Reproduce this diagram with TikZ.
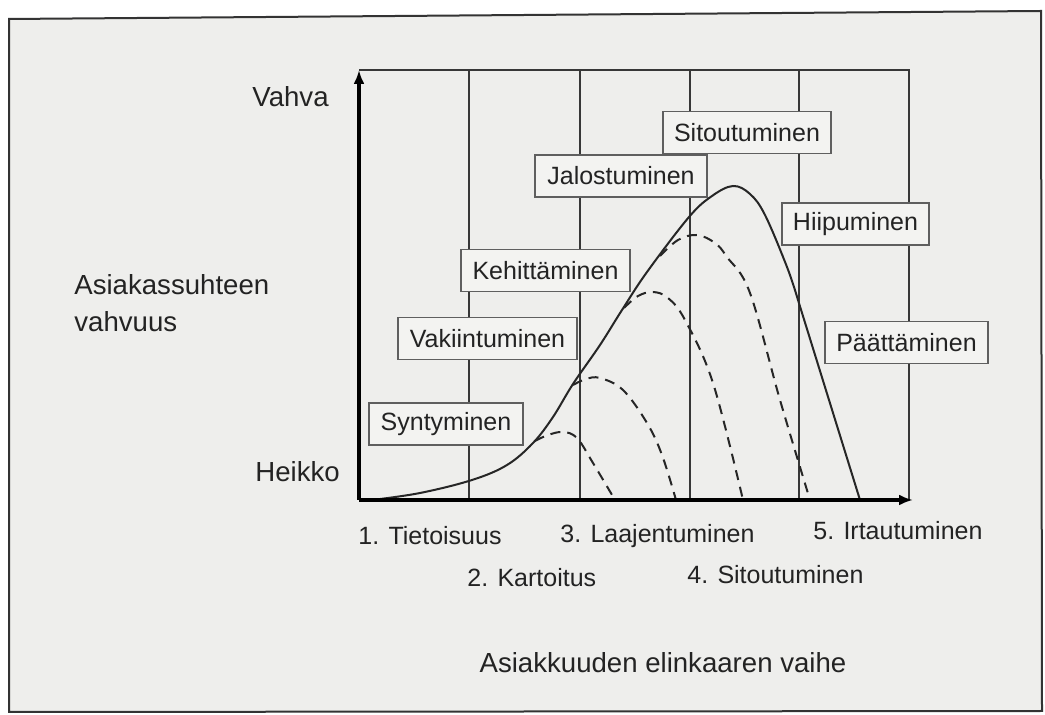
\documentclass[tikz,border=0pt]{standalone}
\usepackage{fontspec}
\setmainfont{Liberation Sans}
\usetikzlibrary{arrows.meta}
\begin{document}
\begin{tikzpicture}[x=0.5pt,y=-0.5pt,
  paper/.style={fill=papergray},
  stagebox/.style={draw=boxgray, line width=0.8pt, fill=boxfill, text=inkgray,
     font=\fontsize{12.5}{14}\selectfont, minimum height=21pt, inner sep=0pt, anchor=center},
  axislabel/.style={text=inkgray, font=\fontsize{13.8}{16}\selectfont, inner sep=0pt},
  phaselabel/.style={text=inkgray, font=\fontsize{12.5}{14}\selectfont, inner sep=0pt, anchor=base west},
  divider/.style={draw=linegray, line width=0.8pt},
  lifecurve/.style={draw=black!85, line width=1pt},
  dashcurve/.style={draw=black!85, line width=1pt, dash pattern=on 5pt off 3.5pt},
  axisline/.style={draw=black, line width=1.6pt, -{Latex[length=7pt,width=5.5pt]}}
]
\useasboundingbox (0,0) rectangle (1045,715);
\definecolor{papergray}{RGB}{238,238,236}
\definecolor{boxfill}{RGB}{243,243,241}
\definecolor{boxgray}{RGB}{95,95,95}
\definecolor{linegray}{RGB}{55,55,55}
\definecolor{inkgray}{RGB}{35,35,35}
\fill[white] (0,0) rectangle (1045,715);
\draw[paper, draw=black!80, line width=1pt] (9,19) -- (1041,11) -- (1042,711) -- (9,712) -- cycle;

% plot frame coordinates
\coordinate (O) at (359,500);
\coordinate (Ytop) at (359,70);
\coordinate (Xend) at (913,500);
\coordinate (TR) at (909,70);
\coordinate (BR) at (909,500);

% top border and right border
\draw[divider, line width=1pt] (Ytop) -- (TR) -- (BR);
% dividers
\foreach \xx in {469,580,690,799}{
  \draw[divider] (\xx,70) -- (\xx,500);
}

% solid life curve
\draw[lifecurve] plot[smooth, tension=0.6] coordinates {
 (372,500) (420,493) (472,480) (507,465) (533,443) (553,417) (573,384)
 (600,345) (622,310) (647,272) (689,217) (712,196) (733,186) (750,194)
 (765,215) (787,267) (798,300)} -- (860,500);

% dashed curves
\draw[dashcurve] plot[smooth, tension=0.6] coordinates {
 (535,441) (548,435) (563,432) (577,438) (593,463) (615,500)};
\draw[dashcurve] plot[smooth, tension=0.6] coordinates {
 (573,385) (586,379) (600,378) (623,390) (647,423) (662,455) (676,500)};
\draw[dashcurve] plot[smooth, tension=0.6] coordinates {
 (624,308) (638,296) (653,292) (668,298) (685,320) (713,383) (743,500)};
\draw[dashcurve] plot[smooth, tension=0.6] coordinates {
 (660,256) (678,240) (697,235) (715,243) (727,257) (750,293) (780,400) (810,500)};

% stage boxes
\node[stagebox, minimum width=77pt]   (syn) at (446,424)   {Syntyminen};
\node[stagebox, minimum width=89.5pt] (vak) at (487.5,338.5) {Vakiintuminen};
\node[stagebox, minimum width=84.5pt] (keh) at (545.5,270.5) {Kehittäminen};
\node[stagebox, minimum width=86pt]   (jal) at (621,176)   {Jalostuminen};
\node[stagebox, minimum width=84pt]   (sit) at (747,132.5) {Sitoutuminen};
\node[stagebox, minimum width=73.5pt] (hii) at (855.5,224) {Hiipuminen};
\node[stagebox, minimum width=81.5pt] (paa) at (906.5,342.5) {Päättäminen};

% axes
\draw[axisline] (O) -- (Ytop);
\draw[axisline] (O) -- (Xend);

% axis labels
\node[axislabel, anchor=west] (vahva) at (252,97) {Vahva};
\node[axislabel, anchor=west] (heikko) at (255,472) {Heikko};
\node[axislabel, anchor=base west] (ylab1) at (74,295) {Asiakassuhteen};
\node[axislabel, anchor=base west] (ylab2) at (74,332) {vahvuus};
\node[axislabel, anchor=center] (xlab) at (663,663) {Asiakkuuden elinkaaren vaihe};

% phase labels
\node[phaselabel] (p1) at (358,545) {1. Tietoisuus};
\node[phaselabel] (p2) at (467,587) {2. Kartoitus};
\node[phaselabel] (p3) at (560,543) {3. Laajentuminen};
\node[phaselabel] (p4) at (687,584) {4. Sitoutuminen};
\node[phaselabel] (p5) at (813,540) {5. Irtautuminen};
\end{tikzpicture}
\end{document}
